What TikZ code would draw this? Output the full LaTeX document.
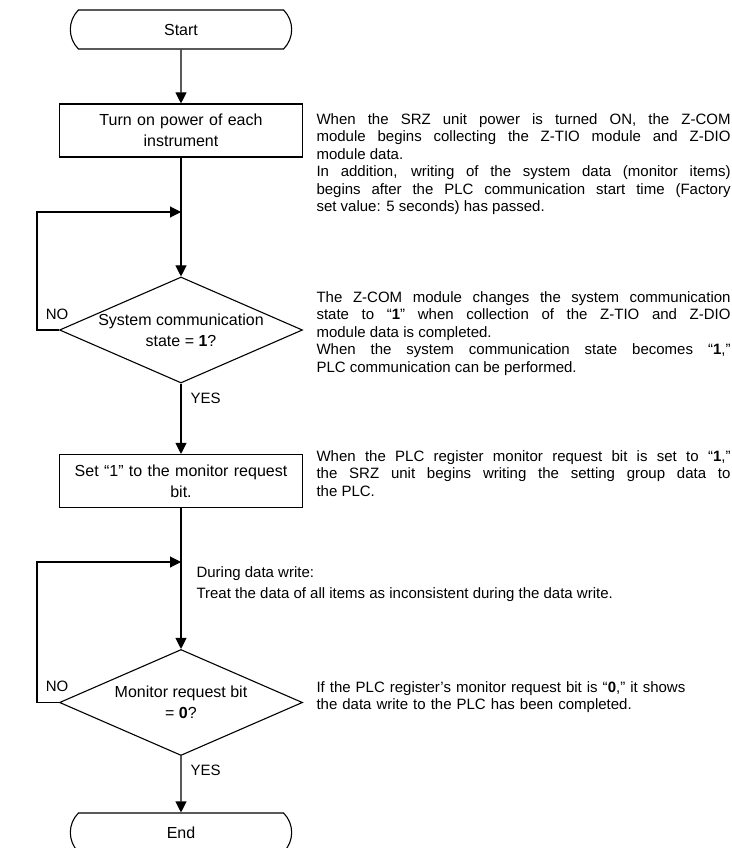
\documentclass[tikz,border=0pt]{standalone}
\usepackage{fontspec}
\setmainfont{Liberation Sans}
\usetikzlibrary{shapes.geometric,shapes.misc,arrows.meta}
\setlength{\parindent}{0pt}

\begin{document}
\begin{tikzpicture}[x=1pt,y=-1pt,line width=1.1pt,
    term/.style={draw,rounded rectangle,rounded rectangle arc length=90,
      minimum width=228pt,minimum height=39pt,font=\fontsize{16}{19}\selectfont},
    procbox/.style={draw,rectangle,minimum width=243pt,minimum height=53pt,
      text width=230pt,inner sep=0pt,align=center,font=\fontsize{16}{21}\selectfont},
    decision/.style={draw,diamond,aspect=2.3,minimum width=243pt,minimum height=106pt,
      inner sep=-4pt,align=center,font=\fontsize{16}{21}\selectfont},
    note/.style={anchor=north west,inner sep=0pt,text width=414pt,align=justify,
      font=\fontsize{15}{17.4}\selectfont},
    tag/.style={inner sep=0pt,font=\fontsize{15}{18}\selectfont},
    flow/.style={-{Triangle[length=11pt,width=11pt]}}]
  \useasboundingbox (0,0) rectangle (731,848);

  % flow chart
  \node[term] (start) at (181,29.5) {Start};
  \node[procbox] (power) at (181,130.5) {Turn on power of each\\instrument};
  \node[decision] (comm) at (181,330) {System communication\\state = \textbf{1}?};
  \node[procbox] (setbit) at (181,481) {Set “1” to the monitor request\\bit.};
  \node[decision] (bit) at (181,702.5) {Monitor request bit\\ = \textbf{0}?};
  \node[term] (end) at (181,832.5) {End};

  \coordinate (j1) at (181,212);
  \coordinate (l1) at (37,212);
  \coordinate (j2) at (181,562);
  \coordinate (l2) at (37,562);

  \draw[flow] (start) -- (power);
  \draw (power) -- (j1);
  \draw[flow] (j1) -- (comm);
  \draw[flow] (comm.west) -- (comm.west -| l1) -- (l1) -- (j1);
  \draw[flow] (comm) -- (setbit);
  \draw (setbit) -- (j2);
  \draw[flow] (j2) -- (bit);
  \draw[flow] (bit.west) -- (bit.west -| l2) -- (l2) -- (j2);
  \draw[flow] (bit) -- (end);

  \node[tag] (no1) at (57,314) {NO};
  \node[tag,anchor=west] (yes1) at (190,398) {YES};
  \node[tag] (no2) at (57,686) {NO};
  \node[tag,anchor=west] (yes2) at (190,770) {YES};

  % notes
  \node[note] (n1) at (316,113) {When the SRZ unit power is turned ON, the Z-COM\linebreak
    module begins collecting the Z-TIO module and Z-DIO\linebreak
    module data.\\
    In addition, writing of the system data (monitor items)\linebreak
    begins after the PLC communication start time (Factory\linebreak
    set value: 5 seconds) has passed.};
  \node[note] (n2) at (316,291) {The Z-COM module changes the system communication\linebreak
    state to “\textbf{1}” when collection of the Z-TIO and Z-DIO\linebreak
    module data is completed.\\
    When the system communication state becomes “\textbf{1},”\linebreak
    PLC communication can be performed.};
  \node[note] (n3) at (316,450) {When the PLC register monitor request bit is set to “\textbf{1},”\linebreak
    the SRZ unit begins writing the setting group data to\linebreak
    the PLC.};
  \node[tag,anchor=north west,align=left,font=\fontsize{15}{21}\selectfont] (dw) at (196,566)
    {During data write:\\Treat the data of all items as inconsistent during the data write.};
  \node[note,align=left] (n4) at (316,681) {If the PLC register’s monitor request bit is “\textbf{0},” it shows\\
    the data write to the PLC has been completed.};
\end{tikzpicture}
\end{document}
